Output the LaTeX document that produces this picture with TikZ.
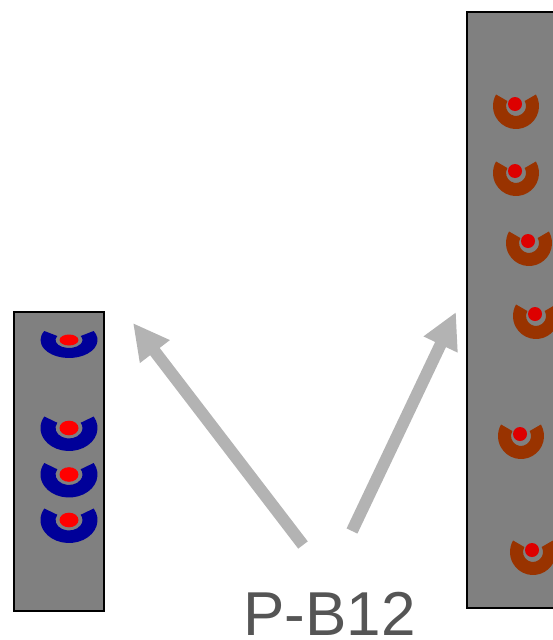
\documentclass[tikz,border=0pt]{standalone}
\usepackage{fontspec}
\setmainfont{Liberation Sans}
\usetikzlibrary{arrows.meta}
\definecolor{bargray}{HTML}{808080}
\definecolor{ringblue}{HTML}{000099}
\definecolor{ringbrown}{HTML}{993300}
\definecolor{dotred}{HTML}{FF0000}
\definecolor{dotdark}{HTML}{DD0000}
\definecolor{arrowgray}{HTML}{B3B3B3}
\definecolor{labelgray}{HTML}{555555}
\newcommand\myring[8]{% x y orx ory irx iry color
  \fill[#7] (#1,#2) ++(-30:#3 and #4) arc[start angle=-30,end angle=210,x radius=#3,y radius=#4]
    -- ($(#1,#2)+(210:#5 and #6)$) arc[start angle=210,end angle=-30,x radius=#5,y radius=#6] -- cycle;}
\usetikzlibrary{calc}
\begin{document}
\begin{tikzpicture}[x=1pt,y=-1pt,
  bar/.style={draw=black,line width=2.2pt,fill=bargray},
  bigarrow/.style={draw=arrowgray,line width=12pt,-{Triangle[length=36pt,width=35pt]}}]
\useasboundingbox (0,0) rectangle (552,640);
% bars
\node[bar,rectangle,minimum width=90pt,minimum height=299pt,inner sep=0pt] (leftbar) at (59,461.5) {};
\node[bar,rectangle,minimum width=100pt,minimum height=596pt,inner sep=0pt] (rightbar) at (517,310) {};
% left blue rings
\foreach \cy/\ory/\iry/\ry in {340/18/8/5.5, 428/23/10.5/7.3, 474.5/23/10.5/7.3, 520/23/10.5/7.3}{
  \myring{69}{\cy}{28.5}{\ory}{13.5}{\iry}{ringblue}{}
  \fill[dotred] (69,\cy) ellipse[x radius=9.5,y radius=\ry];
}
% right brown rings
\foreach \cx/\cy in {516/106, 516/173, 529/243, 536/316, 521/436, 533/552}{
  \myring{\cx}{\cy}{23}{23}{10}{10}{ringbrown}{}
  \fill[dotdark] ($(\cx,\cy)+(-1,-2)$) circle[radius=7];
}
% arrows
\coordinate (a1s) at (303,545);
\coordinate (a1e) at (133,323);
\coordinate (a2s) at (352,531);
\coordinate (a2e) at (456,312);
\draw[bigarrow] (a1s) -- (a1e);
\draw[bigarrow] (a2s) -- (a2e);
% label
\node[anchor=base,text=labelgray,font=\fontsize{62}{70}\selectfont,inner sep=0pt] (lbl) at (329.5,635) {P-B12};
\end{tikzpicture}
\end{document}
